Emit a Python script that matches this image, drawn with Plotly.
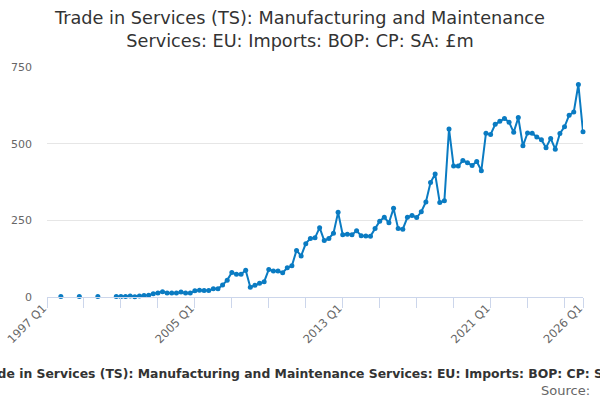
import plotly.graph_objects as go

TITLE = "Trade in Services (TS): Manufacturing and Maintenance Services: EU: Imports: BOP: CP: SA: £m"

# quarter categories 1997 Q1 .. 2026 Q1
quarters = [f"{y} Q{q}" for y in range(1997, 2027) for q in range(1, 5)][:117]

# values in £m, None where no observation
early = [None, None, None, 2, None, None, None, 2, None, None, None, 2, None, None, None]
values_2000_2008 = [2, 2, 2, 3, 1, 3, 5, 6, 11, 13, 17, 13, 13, 13, 16,
                    13, 13, 20, 22, 21, 21, 27, 27, 39, 55, 80, 74, 74, 87, 32]
values_2008_2026 = [38, 45, 50, 90, 85, 85, 79, 95, 102, 152,
                    134, 174, 191, 193, 226, 184, 191, 208, 276, 203,
                    205, 203, 216, 200, 199, 198, 223, 247, 260, 242,
                    289, 223, 221, 260, 266, 259, 278, 310, 373, 401,
                    308, 314, 548, 427, 427, 445, 438, 429, 442, 412,
                    534, 530, 563, 573, 582, 570, 537, 585, 493, 535,
                    534, 522, 513, 487, 517, 482, 533, 555, 593, 603,
                    693, 539]
values = early + values_2000_2008 + values_2008_2026

tick_idx = list(range(0, 116, 8)) + [116]
labelled = {"1997 Q1", "2005 Q1", "2013 Q1", "2021 Q1", "2026 Q1"}
tick_vals = [quarters[i] for i in tick_idx]
tick_text = [q if q in labelled else "" for q in tick_vals]

y_ticks = [0, 250, 500, 750]

FONT = "DejaVu Sans, sans-serif"
LINE = "#0a7bc2"
AXIS = "#ccd6eb"

fig = go.Figure()
fig.add_trace(go.Scatter(
    x=quarters, y=values, mode="lines+markers",
    line=dict(color=LINE, width=2),
    marker=dict(color=LINE, size=5),
    connectgaps=False, cliponaxis=False, showlegend=False,
))

fig.update_layout(
    width=600, height=400,
    paper_bgcolor="white", plot_bgcolor="white",
    margin=dict(l=47, r=17, t=67, b=103),
    font=dict(family=FONT, color="#666666", size=11),
    title=dict(
        text="Trade in Services (TS): Manufacturing and Maintenance<br>Services: EU: Imports: BOP: CP: SA: £m",
        x=0.5, xanchor="center", y=0.94, yanchor="top",
        font=dict(family=FONT, size=17.7, color="#333333"),
    ),
    xaxis=dict(
        type="category", range=[0, 116], automargin=False,
        tickvals=tick_vals, ticktext=tick_text, tickangle=-45,
        ticks="outside", ticklen=10, tickcolor=AXIS, tickwidth=1,
        showline=True, linecolor=AXIS, linewidth=1,
        showgrid=False, zeroline=False,
        tickfont=dict(size=11.5, color="#666666"),
        ticklabelstandoff=-11, ticklabelshift=-4,
    ),
    yaxis=dict(
        range=[0, 750], tickvals=y_ticks, automargin=False,
        showgrid=True, gridcolor="#e6e6e6", gridwidth=1,
        zeroline=False, showline=False, ticks="",
        tickfont=dict(size=11, color="#666666"),
        ticklabelstandoff=14,
    ),
    annotations=[
        # axis title is wider than the chart and runs off both edges, as in the source
        dict(text=f"<b>{TITLE}</b>", xref="paper", yref="paper",
             x=0.49, y=0, yshift=-76, xanchor="center", yanchor="middle",
             showarrow=False, font=dict(family=FONT, size=12.4, color="#333333")),
        dict(text="Source:", xref="paper", yref="paper",
             x=1, y=0, xshift=9, yshift=-93, xanchor="right", yanchor="middle",
             showarrow=False, font=dict(family=FONT, size=13, color="#666666")),
    ],
)

fig.write_html("out.html", config={"displayModeBar": False},
               post_script="document.body.style.margin='0';")
